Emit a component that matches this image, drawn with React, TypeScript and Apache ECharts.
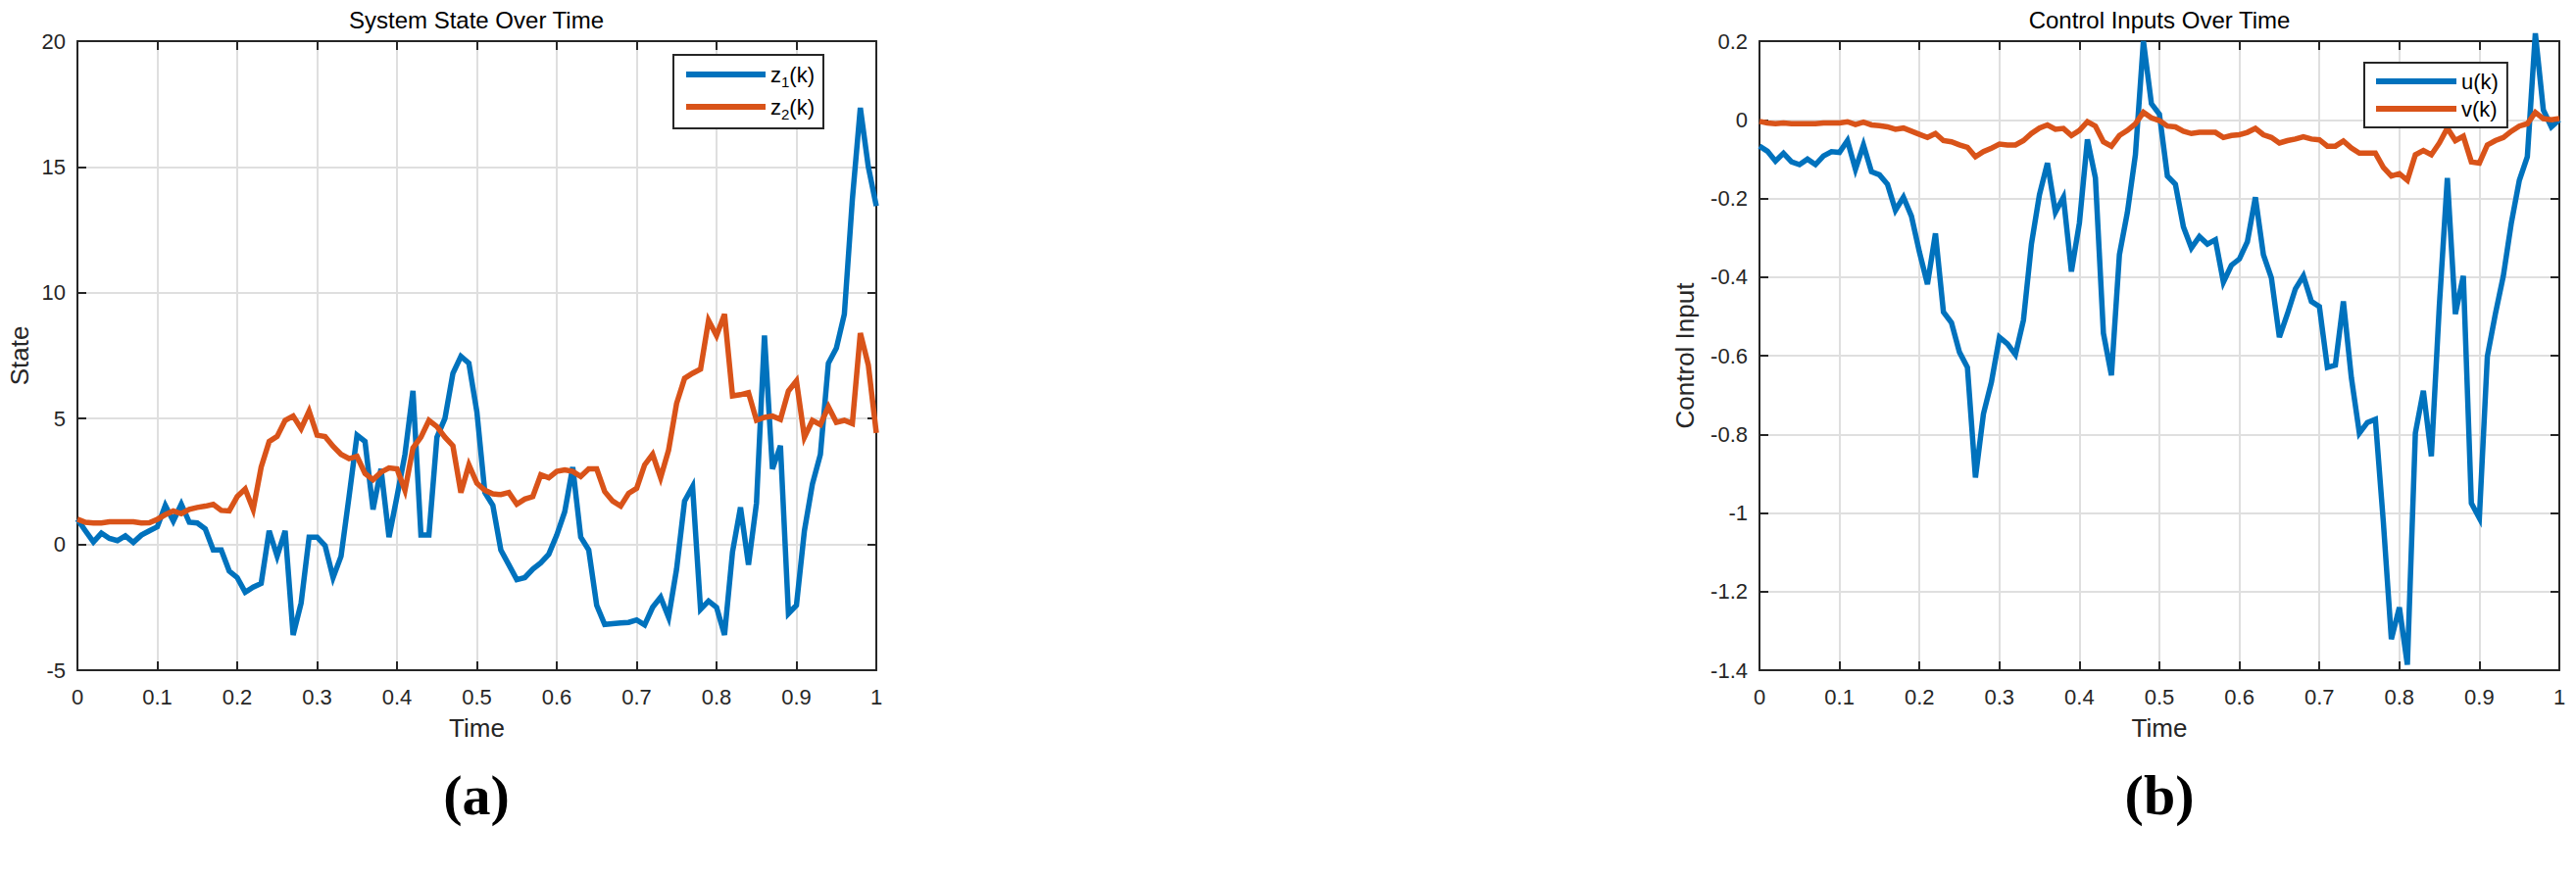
import React, { useEffect, useRef } from "react";
import * as echarts from "echarts";

// ---- data ----
const STEPS = 101; // k = 0..100, time = k/100
const TIME: number[] = Array.from({ length: STEPS }, (_, k) => k / 100);

const Z1: number[] = [
  1.0, 0.54, 0.1, 0.45, 0.24, 0.15, 0.34, 0.08, 0.37, 0.54,
  0.7, 1.55, 0.93, 1.6, 0.88, 0.85, 0.62, -0.22, -0.22, -1.06,
  -1.32, -1.9, -1.7, -1.55, 0.54, -0.47, 0.54, -3.6, -2.33, 0.29,
  0.29, -0.05, -1.32, -0.47, 1.9, 4.34, 4.09, 1.39, 3.0, 0.29,
  1.9, 3.58, 6.1, 0.37, 0.37, 4.26, 5.0, 6.8, 7.47, 7.2,
  5.27, 2.06, 1.55, -0.22, -0.81, -1.4, -1.32, -0.98, -0.73, -0.39,
  0.37, 1.3, 3.07, 0.29, -0.22, -2.42, -3.18, -3.15, -3.12, -3.1,
  -3.0, -3.2, -2.5, -2.1, -2.9, -0.98, 1.72, 2.3, -2.58, -2.25,
  -2.5, -3.6, -0.3, 1.47, -0.81, 1.64, 8.3, 3.0, 3.92, -2.75,
  -2.42, 0.54, 2.4, 3.58, 7.2, 7.8, 9.15, 13.7, 17.35, 15.0,
  13.45,
];

const Z2: number[] = [
  1.0, 0.88, 0.85, 0.85, 0.9, 0.9, 0.9, 0.9, 0.85, 0.86,
  1.0, 1.18, 1.33, 1.22, 1.39, 1.47, 1.52, 1.59, 1.35, 1.33,
  1.9, 2.2, 1.39, 3.07, 4.09, 4.29, 4.93, 5.1, 4.6, 5.3,
  4.34, 4.29, 3.9, 3.58, 3.41, 3.5, 2.82, 2.57, 2.87, 3.04,
  3.0, 2.15, 3.83, 4.26, 4.93, 4.68, 4.26, 3.92, 2.06, 3.16,
  2.43, 2.15, 2.01, 1.98, 2.06, 1.6, 1.8, 1.9, 2.77, 2.65,
  2.9, 2.96, 2.9, 2.7, 3.0, 3.0, 2.1, 1.72, 1.52, 2.03,
  2.23, 3.16, 3.58, 2.65, 3.75, 5.6, 6.6, 6.8, 6.97, 8.9,
  8.3, 9.15, 5.9, 5.95, 6.03, 4.93, 5.05, 5.1, 4.97, 6.1,
  6.5, 4.26, 4.93, 4.76, 5.47, 4.85, 4.93, 4.8, 8.4, 7.13,
  4.43,
];

const U: number[] = [
  -0.067, -0.08, -0.105, -0.085, -0.107, -0.114, -0.1, -0.114, -0.092, -0.081,
  -0.083, -0.053, -0.126, -0.064, -0.132, -0.14, -0.164, -0.23, -0.197, -0.245,
  -0.337, -0.418, -0.289, -0.489, -0.516, -0.591, -0.63, -0.91, -0.748, -0.667,
  -0.553, -0.57, -0.597, -0.51, -0.316, -0.191, -0.11, -0.235, -0.197, -0.386,
  -0.262, -0.05, -0.148, -0.543, -0.65, -0.343, -0.235, -0.089, 0.2, 0.041,
  0.014, -0.143, -0.164, -0.272, -0.326, -0.297, -0.316, -0.305, -0.413, -0.37,
  -0.354, -0.31, -0.197, -0.343, -0.402, -0.553, -0.494, -0.43, -0.397, -0.462,
  -0.475, -0.63, -0.624, -0.462, -0.656, -0.797, -0.77, -0.762, -1.024, -1.321,
  -1.24, -1.386, -0.797, -0.689, -0.856, -0.472, -0.148, -0.494, -0.397, -0.975,
  -1.013, -0.602, -0.494, -0.397, -0.262, -0.154, -0.094, 0.22, 0.025, -0.018,
  0.0,
];

const V: number[] = [
  -0.004, -0.008, -0.01, -0.008, -0.01, -0.01, -0.01, -0.01, -0.008, -0.008,
  -0.008, -0.005, -0.012, -0.006, -0.013, -0.015, -0.018, -0.024, -0.021, -0.029,
  -0.037, -0.045, -0.035, -0.053, -0.056, -0.064, -0.07, -0.094, -0.081, -0.072,
  -0.062, -0.064, -0.064, -0.053, -0.035, -0.021, -0.013, -0.024, -0.022, -0.04,
  -0.027, -0.005, -0.016, -0.056, -0.067, -0.04, -0.027, -0.01, 0.019, 0.005,
  -0.002, -0.016, -0.018, -0.029, -0.035, -0.032, -0.032, -0.032, -0.045, -0.04,
  -0.038, -0.032, -0.022, -0.038, -0.045, -0.059, -0.053, -0.049, -0.043, -0.049,
  -0.051, -0.067, -0.067, -0.054, -0.072, -0.085, -0.085, -0.085, -0.121, -0.143,
  -0.137, -0.154, -0.089, -0.078, -0.089, -0.059, -0.021, -0.053, -0.042, -0.107,
  -0.11, -0.064, -0.053, -0.045, -0.029, -0.016, -0.01, 0.019, 0.003, 0.0,
  0.003,
];

const TITLES = ["System State Over Time", "Control Inputs Over Time"];
const X_NAME = "Time";
const Y_NAMES = ["State", "Control Input"];
const LEGEND_LEFT = ["z1(k)", "z2(k)"];
const LEGEND_RIGHT = ["u(k)", "v(k)"];
const PANEL_LABELS = ["(a)", "(b)"];
const X_RANGE = { min: 0, max: 1, interval: 0.1 };
const Y_RANGE_LEFT = { min: -5, max: 20, interval: 5 };
const Y_RANGE_RIGHT = { min: -1.4, max: 0.2, interval: 0.2 };

const BLUE = "#0072BD";
const ORANGE = "#D95319";
const AXIS = "#262626";
const GRID = "#DFDFDF";
const FONT = "'Liberation Sans', Arial, Helvetica, sans-serif";

const fmt = (v: number) => String(Math.round(v * 100) / 100);

function pairs(ys: number[]) {
  return TIME.map((t, i) => [t, ys[i]]);
}

function baseAxis(gridIndex: number, range: any, extra: any) {
  return {
    type: "value",
    gridIndex,
    min: range.min,
    max: range.max,
    interval: range.interval,
    axisLine: { show: true, onZero: false, lineStyle: { color: AXIS, width: 2 } },
    axisTick: { show: true, inside: true, length: 9, lineStyle: { color: AXIS, width: 2 } },
    ...extra,
  };
}

export default function App() {
  const ref = useRef<HTMLDivElement>(null);

  useEffect(() => {
    if (!ref.current) return;
    const chart = echarts.init(ref.current, undefined, { renderer: "svg" });

    const grids = [
      { left: 79, top: 42, width: 815, height: 642 },
      { left: 1795, top: 42, width: 816, height: 642 },
    ];

    const xAxes: any[] = [];
    const yAxes: any[] = [];
    [0, 1].forEach((g) => {
      const yr = g === 0 ? Y_RANGE_LEFT : Y_RANGE_RIGHT;
      xAxes.push(
        baseAxis(g, X_RANGE, {
          position: "bottom",
          name: X_NAME,
          nameLocation: "middle",
          nameGap: 46,
          nameTextStyle: { fontSize: 26, color: AXIS, fontFamily: FONT },
          axisLabel: { fontSize: 22, color: AXIS, margin: 16, fontFamily: FONT, formatter: fmt },
          splitLine: { show: true, lineStyle: { color: GRID, width: 2 } },
        })
      );
      xAxes.push(
        baseAxis(g, X_RANGE, {
          position: "top",
          axisLabel: { show: false },
          splitLine: { show: false },
        })
      );
      yAxes.push(
        baseAxis(g, yr, {
          position: "left",
          name: Y_NAMES[g],
          nameLocation: "middle",
          nameGap: g === 0 ? 46 : 63,
          nameTextStyle: { fontSize: 26, color: AXIS, fontFamily: FONT },
          axisLabel: { fontSize: 22, color: AXIS, margin: 12, fontFamily: FONT, formatter: fmt },
          splitLine: { show: true, lineStyle: { color: GRID, width: 2 } },
        })
      );
      yAxes.push(
        baseAxis(g, yr, {
          position: "right",
          axisLabel: { show: false },
          splitLine: { show: false },
        })
      );
    });

    const lineSeries = (name: string, data: number[], color: string, g: number, z: number) => ({
      type: "line",
      name,
      xAxisIndex: g * 2,
      yAxisIndex: g * 2,
      data: pairs(data),
      showSymbol: false,
      symbol: "none",
      clip: false,
      z,
      color,
      lineStyle: { color, width: 5.5, join: "miter", miterLimit: 10 },
    });

    const legendCommon = {
      orient: "vertical",
      icon: "rect",
      itemHeight: 6,
      borderColor: AXIS,
      borderWidth: 2,
      backgroundColor: "#fff",
      textStyle: { fontSize: 22, color: "#000", fontFamily: FONT },
    };

    const option: any = {
      animation: false,
      backgroundColor: "#fff",
      textStyle: { fontFamily: FONT },
      title: TITLES.map((t, g) => ({
        text: t,
        left: g === 0 ? 486 : 2203,
        top: 8,
        textAlign: "center",
        padding: 0,
        textStyle: { fontSize: 24, fontWeight: "normal", color: "#000", fontFamily: FONT },
      })),
      grid: grids.map((gr) => ({ ...gr, show: false })),
      xAxis: xAxes,
      yAxis: yAxes,
      legend: [
        {
          ...legendCommon,
          data: LEGEND_LEFT,
          left: 687,
          top: 56,
          itemWidth: 81,
          itemGap: 7,
          padding: [9, 9, 7, 13],
          formatter: (name: string) => {
            const m = name.match(/^(\w)(\d)(.*)$/);
            return m ? `{n|${m[1]}}{s|${m[2]}}{n|${m[3]}}` : name;
          },
          textStyle: {
            fontSize: 22,
            color: "#000",
            fontFamily: FONT,
            rich: {
              n: { fontSize: 22, lineHeight: 30, fontFamily: FONT, color: "#000" },
              s: { fontSize: 15, lineHeight: 9, verticalAlign: "bottom", fontFamily: FONT, color: "#000" },
            },
          },
        },
        {
          ...legendCommon,
          data: LEGEND_RIGHT,
          left: 2412,
          top: 64,
          itemWidth: 82,
          itemGap: 6,
          padding: [8, 9, 8, 12],
        },
      ],
      series: [
        lineSeries(LEGEND_LEFT[0], Z1, BLUE, 0, 2),
        lineSeries(LEGEND_LEFT[1], Z2, ORANGE, 0, 3),
        lineSeries(LEGEND_RIGHT[0], U, BLUE, 1, 2),
        lineSeries(LEGEND_RIGHT[1], V, ORANGE, 1, 3),
      ],
      graphic: PANEL_LABELS.map((t, g) => ({
        type: "text",
        x: g === 0 ? 486 : 2203,
        y: 811,
        style: {
          text: t,
          fill: "#000",
          font: "bold 58px 'Liberation Serif', 'DejaVu Serif', serif",
          textAlign: "center",
          textVerticalAlign: "middle",
        },
      })),
    };

    chart.setOption(option);
    return () => chart.dispose();
  }, []);

  return (
    <div
      ref={ref}
      style={{ position: "fixed", left: 0, top: 0, width: 2628, height: 893, background: "#fff" }}
    />
  );
}
